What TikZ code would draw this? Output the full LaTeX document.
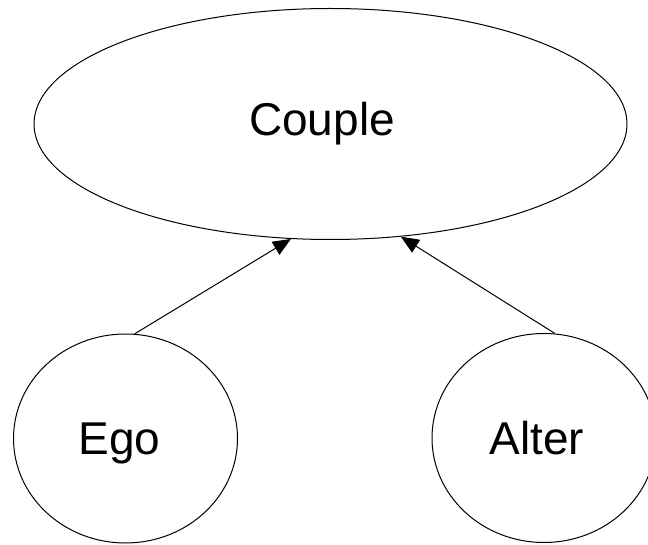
\documentclass[tikz,border=0pt]{standalone}
\usepackage{fontspec}
\setmainfont{Liberation Sans}
\usetikzlibrary{shapes.geometric,arrows.meta}
\tikzset{
  bubble/.style={draw,ellipse,line width=1pt,inner sep=0pt,font=\fontsize{46pt}{55pt}\selectfont},
  person/.style={bubble,minimum width=224pt,minimum height=209pt,text depth=0pt},
  link/.style={line width=1pt,-{Triangle[length=18pt,width=15pt]}}
}
\begin{document}
\begin{tikzpicture}[x=1pt,y=1pt]
      \useasboundingbox (0,0) rectangle (648,544);
      \node[bubble,minimum width=593pt,minimum height=231pt] (couple) at (330.5,420) {Couple\kern17pt};
      \node[person] (ego) at (125.5,105.5) {Ego\kern12pt};
      \node[person] (alter) at (544,106) {Alter\kern14pt};
      \draw[link] (ego.85) -- (couple.251);
      \draw[link] (alter.84) -- (couple.302);
\end{tikzpicture}
\end{document}
